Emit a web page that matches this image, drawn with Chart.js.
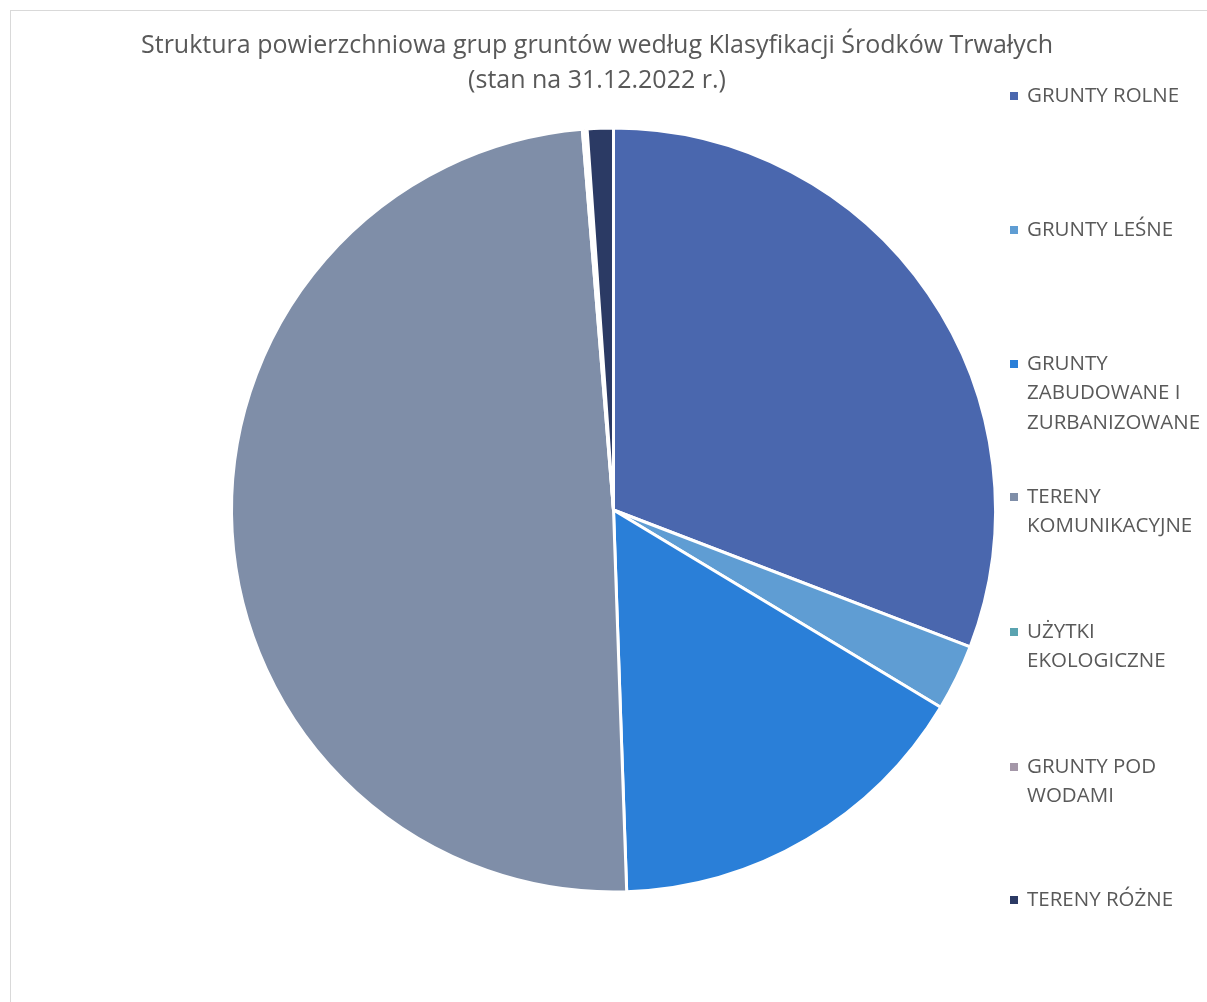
<!DOCTYPE html>
<html>
<head>
<meta charset="utf-8">
<script src="https://cdn.jsdelivr.net/npm/chart.js@4"></script>
<style>
body{margin:0;background:#fff;}
#frame{position:absolute;left:10px;top:10px;width:1300px;height:1100px;border-left:1px solid #d9d9d9;border-top:1px solid #d9d9d9;}
#wrap{position:absolute;left:0;top:0;width:1207px;height:1002px;}
</style>
</head>
<body>
<div id="frame"></div>
<div id="wrap"><canvas id="c" width="1207" height="1002"></canvas></div>
<script>
// categories and values (share of area, %)
const labels = [
    ["GRUNTY ROLNE"],
    ["GRUNTY LEŚNE"],
    ["GRUNTY", "ZABUDOWANE I", "ZURBANIZOWANE"],
    ["TERENY", "KOMUNIKACYJNE"],
    ["UŻYTKI", "EKOLOGICZNE"],
    ["GRUNTY POD", "WODAMI"],
    ["TERENY RÓŻNE"]
];
const values = [30.8, 2.8, 15.8, 49.2, 0.1, 0.1, 1.1];
const colors = ["#4a67ae","#5f9dd3","#2a7fd8","#7f8ea8","#5aa3b0","#a497a8","#2b3a64"];
const titleLines = ["Struktura powierzchniowa grup gruntów według Klasyfikacji Środków Trwałych","(stan na 31.12.2022 r.)"];

const textColor = "#595959";

// title + legend drawn by hand so the legend text can wrap like the original
const deco = {
    id: "deco",
    afterDraw(chart){
        const ctx = chart.ctx;
        ctx.save();
        ctx.fillStyle = textColor;
        ctx.textBaseline = "middle";
        ctx.textAlign = "center";
        ctx.font = "25px 'Open Sans'";
        ctx.fillText(titleLines[0], 597, 46);
        ctx.fillText(titleLines[1], 597, 81);

        ctx.textAlign = "left";
        ctx.font = "20.5px 'Open Sans'";
        const tops = [96, 230, 364, 497, 632, 767, 900];
        chart.data.labels.forEach((lines, i) => {
            ctx.fillStyle = colors[i];
            ctx.fillRect(1010, tops[i] - 4, 8, 8);
            ctx.fillStyle = textColor;
            lines.forEach((ln, j) => ctx.fillText(ln, 1027, tops[i] + j * 29.5));
        });
        ctx.restore();
    }
};

new Chart(document.getElementById("c"), {
    type: "pie",
    data: {
        labels: labels,
        datasets: [{
            data: values,
            backgroundColor: colors,
            borderColor: "#ffffff",
            borderWidth: 3
        }]
    },
    options: {
        responsive: false,
        animation: false,
        layout: {padding: {left: 230, right: 210, top: 126, bottom: 108}},
        plugins: {
            legend: {display: false},
            title: {display: false},
            tooltip: {enabled: false}
        }
    },
    plugins: [deco]
});
</script>
</body>
</html>
